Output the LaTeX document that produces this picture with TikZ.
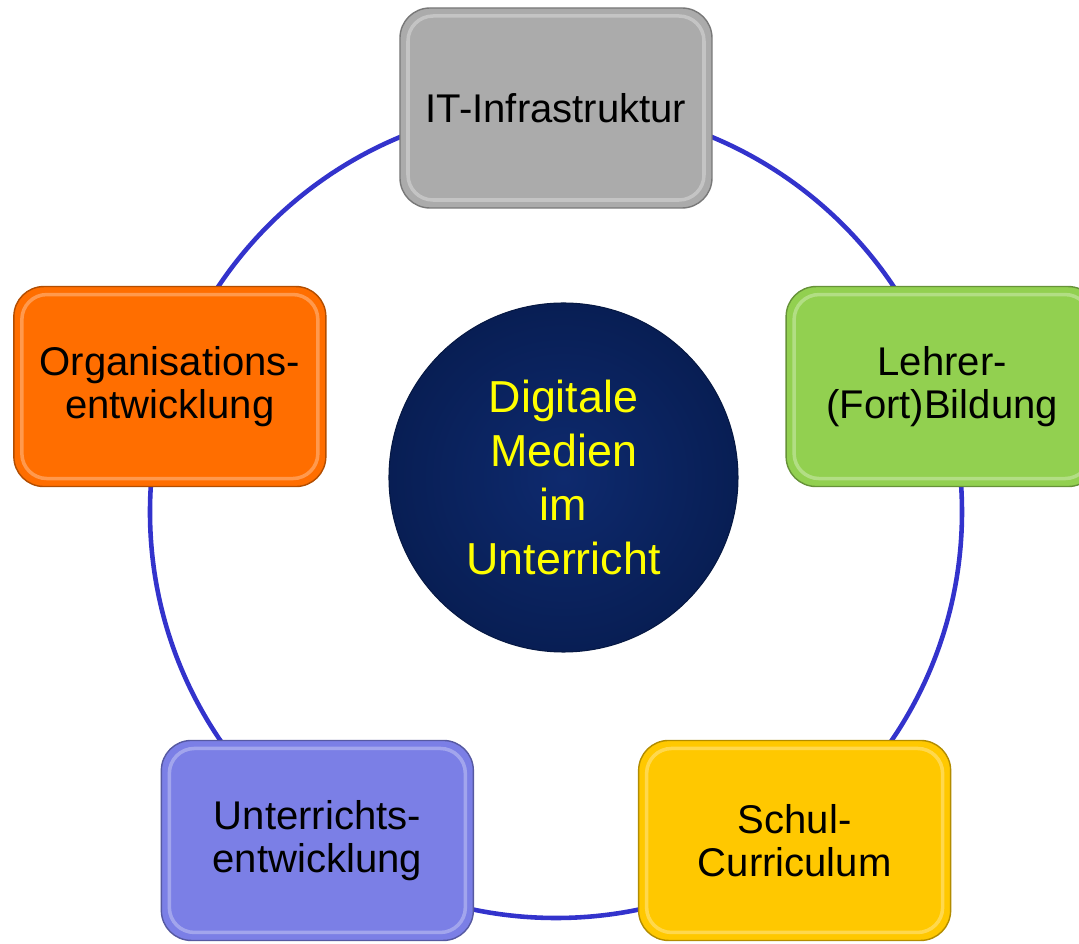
\documentclass[tikz,border=0pt]{standalone}
\usepackage{fontspec}
\setmainfont{Liberation Sans}

\definecolor{ringblue}{RGB}{51,51,204}
\definecolor{itgray}{RGB}{171,171,171}
\definecolor{lehrgreen}{RGB}{146,208,80}
\definecolor{schulyellow}{RGB}{255,200,0}
\definecolor{unterblue}{RGB}{123,127,230}
\definecolor{orgorange}{RGB}{255,110,0}
\definecolor{navylight}{RGB}{14,42,110}
\definecolor{navydark}{RGB}{8,30,84}
\definecolor{coreyellow}{RGB}{255,255,0}

\tikzset{
  ring/.style={draw=ringblue, line width=2.6pt},
  topic/.style={rectangle, rounded corners=0.6cm, minimum width=6.24cm, minimum height=4cm,
    fill=#1, draw=#1!70!black, line width=0.8pt, align=center,
    font=\fontsize{22.8}{24.5}\selectfont,
    path picture={\draw[white, opacity=0.3, line width=2pt, rounded corners=0.5cm]
      ([shift={(0.16,-0.16)}]path picture bounding box.north west) rectangle
      ([shift={(-0.16,0.16)}]path picture bounding box.south east);}},
  core/.style={circle, minimum size=6.98cm, inner color=navylight, outer color=navydark,
    draw=navydark!80!black, line width=0.6pt, align=center, text=coreyellow,
    font=\fontsize{25.5}{30.9}\selectfont}
}

\begin{document}
\begin{tikzpicture}
  \useasboundingbox (-11.12,-8.64) rectangle (10.46,10.24);
  \coordinate (ringc) at (0,0);
  \draw[ring] (ringc) circle (8.12);

  \node[topic=itgray] (it) at (90:8.08) {IT-Infrastruktur};
  \node[topic=lehrgreen] (lehrer) at (18:8.12) {Lehrer-\\(Fort)Bildung};
  \node[topic=schulyellow] (schul) at (306:8.12) {Schul-\\Curriculum};
  \node[topic=unterblue] (unter) at (234:8.12) {Unterrichts-\\entwicklung};
  \node[topic=orgorange] (org) at (162:8.12) {Organisations-\\entwicklung};

  \node[core] (mitte) at (0.15,0.69) {Digitale\\Medien\\im\\Unterricht};
\end{tikzpicture}
\end{document}
